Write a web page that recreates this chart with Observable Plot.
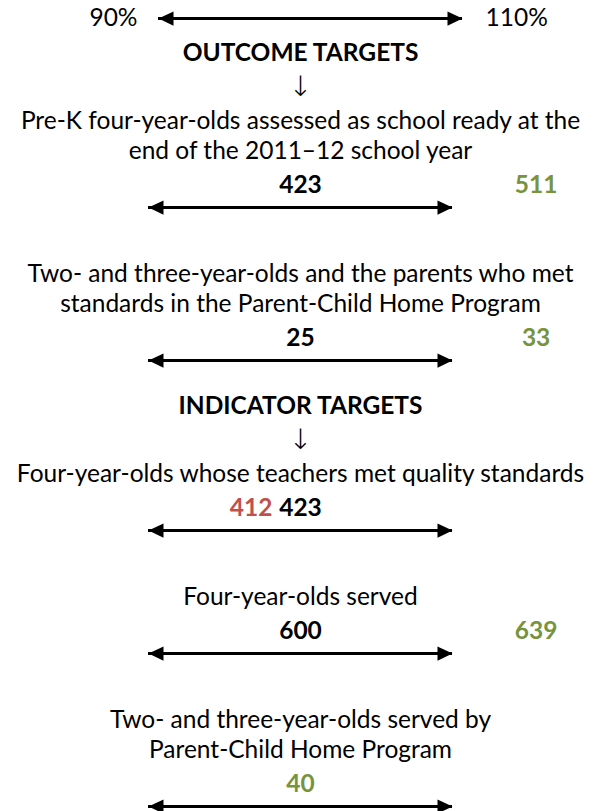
<!DOCTYPE html>
<html>
<head>
<meta charset="utf-8">
<script src="https://cdn.jsdelivr.net/npm/d3@7"></script>
<script src="https://cdn.jsdelivr.net/npm/@observablehq/plot@0.6"></script>
<style>
  body { margin: 0; background: #fff; }
  #chart svg { display: block; }
</style>
</head>
<body>
<div id="chart"></div>
<script>
// ---- data ----
const legendLabels = ["90%", "110%"];
const legendBounds = [90, 110];           // percent of target
const sectionTitles = ["OUTCOME TARGETS", "INDICATOR TARGETS"];
const measureLabels = [
  ["Pre-K four-year-olds assessed as school ready at the", "end of the 2011–12 school year"],
  ["Two- and three-year-olds and the parents who met", "standards in the Parent-Child Home Program"],
  ["Four-year-olds whose teachers met quality standards"],
  ["Four-year-olds served"],
  ["Two- and three-year-olds served by", "Parent-Child Home Program"]
];
const measureSection = [0, 0, 1, 1, 1];
const targets = [423, 25, 423, 600, 40];
const actuals = [511, 33, 412, 639, 40];

// ---- style ----
const FONT = "Lato, 'Open Sans', sans-serif";
const FS = 24.5;
const GREEN = "#77933C", RED = "#C0504D", BLACK = "#000";
const W = 600, H = 811;

// ---- layout (vertical cursor) ----
const legendY = 18;
const headings = [], downArrows = [], labelLines = [], rowArrows = [];
const targetTexts = [], actualTexts = [];
let y = legendY, prevSection = -1;
measureLabels.forEach((lines, i) => {
  if (measureSection[i] !== prevSection) {
    y += prevSection < 0 ? 35 : 46;
    headings.push({y, text: sectionTitles[measureSection[i]]});
    y += 34;
    downArrows.push({y});
    y += 34;
    prevSection = measureSection[i];
  } else {
    y += 67;
  }
  lines.forEach((t, k) => { if (k) y += 30; labelLines.push({y, text: t}); });
  y += 34;
  const tgt = targets[i], act = actuals[i];
  const status = act > tgt ? "above" : act < tgt ? "below" : "met";
  if (status !== "met") targetTexts.push({y, x: 100, text: String(tgt)});
  actualTexts.push({y, status, text: String(act)});
  y += 22;
  rowArrows.push({y});
});

// above-target values are parked in a slot to the right of the 110% end
const beyond = legendBounds[1] + (legendBounds[1] - 100) * 0.55;
const aboveT = actualTexts.filter(d => d.status === "above").map(d => ({...d, x: beyond}));
const metT = actualTexts.filter(d => d.status === "met").map(d => ({...d, x: 100}));
const belowT = actualTexts.filter(d => d.status === "below").map(d => ({...d, x: 100}));

// filled triangle heads with the tip at the origin
const headR = {draw(c, size) { const r = Math.sqrt(size / Math.PI); c.moveTo(0, 0); c.lineTo(-2 * r, -0.95 * r); c.lineTo(-2 * r, 0.95 * r); c.closePath(); }};
const headL = {draw(c, size) { const r = Math.sqrt(size / Math.PI); c.moveTo(0, 0); c.lineTo(2 * r, -0.95 * r); c.lineTo(2 * r, 0.95 * r); c.closePath(); }};

const legendRow = [{y: legendY}];
const arrowMarks = (data, dx) => [
  Plot.ruleY(data, {y: "y", x1: legendBounds[0], x2: legendBounds[1], stroke: BLACK, strokeWidth: 2.8, dx}),
  Plot.dot(data, {y: "y", x: () => legendBounds[1], symbol: headR, r: 7.5, fill: BLACK, stroke: "none", dx}),
  Plot.dot(data, {y: "y", x: () => legendBounds[0], symbol: headL, r: 7.5, fill: BLACK, stroke: "none", dx})
];

const chart = Plot.plot({
  width: W, height: H,
  marginLeft: 148, marginRight: 148, marginTop: 0, marginBottom: 0,
  x: {domain: legendBounds, axis: null},
  y: {domain: [0, H], range: [0, H], axis: null},
  style: {fontFamily: FONT, background: "#fff", overflow: "visible"},
  marks: [
    // legend
    ...arrowMarks(legendRow, 10),
    Plot.text(legendRow, {y: "y", x: () => legendBounds[0], text: () => legendLabels[0], textAnchor: "end", dx: -11, fontSize: FS, fill: BLACK}),
    Plot.text(legendRow, {y: "y", x: () => legendBounds[1], text: () => legendLabels[1], textAnchor: "start", dx: 33, fontSize: FS, fill: BLACK}),
    // section headings
    Plot.text(headings, {y: "y", x: () => 100, text: "text", fontSize: FS, fontWeight: "bold", fill: BLACK}),
    Plot.text(downArrows, {y: "y", x: () => 100, text: () => "↓", fontSize: 28, fill: BLACK, fontFamily: "DejaVu Sans", fontWeight: 300}),
    // measure labels
    Plot.text(labelLines, {y: "y", x: () => 100, text: "text", fontSize: FS, fill: BLACK}),
    // numbers
    Plot.text(targetTexts, {y: "y", x: "x", text: "text", fontSize: FS, fontWeight: "bold", fill: BLACK}),
    Plot.text(aboveT, {y: "y", x: "x", text: "text", fontSize: FS, fontWeight: "bold", fill: GREEN}),
    Plot.text(metT, {y: "y", x: "x", text: "text", fontSize: FS, fontWeight: "bold", fill: GREEN}),
    Plot.text(belowT, {y: "y", x: "x", text: "text", fontSize: FS, fontWeight: "bold", fill: RED, textAnchor: "end", dx: -28}),
    // row arrows
    ...arrowMarks(rowArrows, 0)
  ]
});
document.getElementById("chart").appendChild(chart);
</script>
</body>
</html>
